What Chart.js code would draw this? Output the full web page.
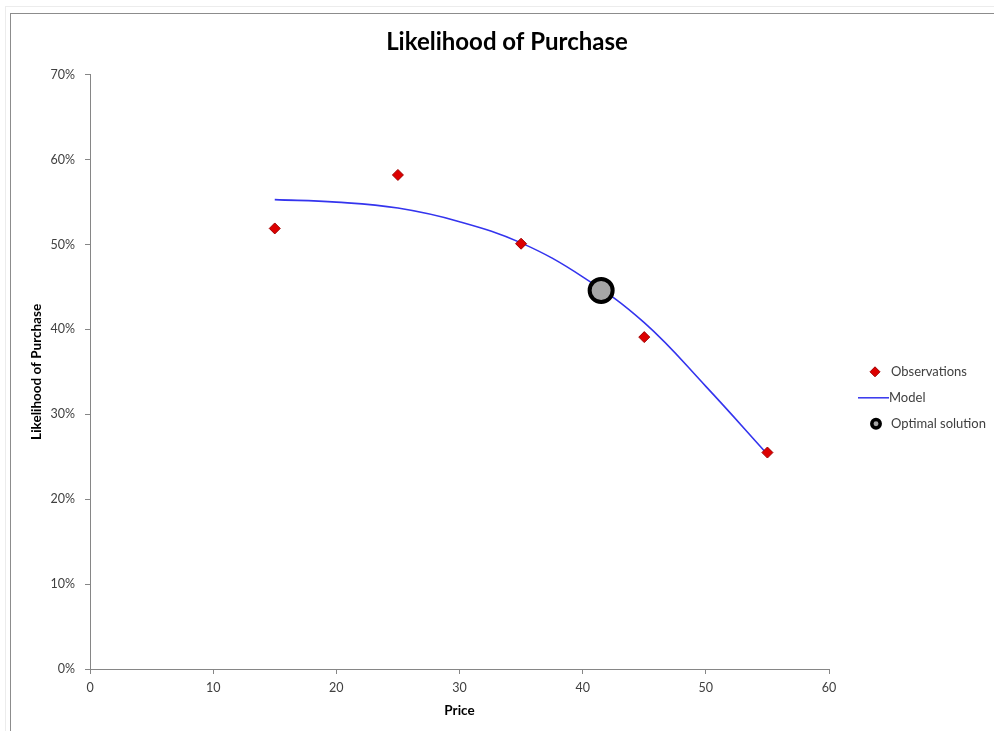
<!DOCTYPE html>
<html>
<head>
<meta charset="utf-8">
<title>Likelihood of Purchase</title>
<script src="https://cdn.jsdelivr.net/npm/chart.js@4.4.1/dist/chart.umd.min.js"></script>
<style>
  html, body { margin: 0; padding: 0; background: #ffffff; overflow: hidden; }
  #outer { position: absolute; left: 5px; top: 6px; width: 1000px; height: 740px; border: 1px solid #ececec; }
  #frame { position: absolute; left: 10px; top: 13px; width: 1000px; height: 740px; border: 1px solid #8c8c8c; }
  #wrap { position: absolute; left: 0; top: 0; width: 994px; height: 731px; }
</style>
</head>
<body>
<div id="outer"></div>
<div id="frame"></div>
<div id="wrap"><canvas id="chart" width="994" height="731"></canvas></div>
<script>
// Observed purchase likelihood at each tested price
const obsPrice = [15, 25, 35, 45, 55];
const obsLikelihood = [0.519, 0.582, 0.501, 0.391, 0.255];

// Fitted model curve
const modelPrice = [15, 20, 25, 30, 35, 40, 45, 50, 55];
const modelLikelihood = [0.553, 0.550, 0.543, 0.527, 0.502, 0.462, 0.408, 0.333, 0.253];

// Optimal price point on the model
const optimalPrice = [41.5];
const optimalLikelihood = [0.446];

// Axis ticks
const xTicks = [0, 10, 20, 30, 40, 50, 60];
const yTicks = [0, 0.1, 0.2, 0.3, 0.4, 0.5, 0.6, 0.7];

const FONT = 'Lato, "Open Sans", "Liberation Sans", sans-serif';
const AXIS = '#868686';
const TEXT = '#404040';

const toPoints = (xs, ys) => xs.map((x, i) => ({ x: x, y: ys[i] }));

// Legend drawn to the right of the plot area
const sideLegend = {
  id: 'sideLegend',
  afterDraw(chart) {
    const { ctx, chartArea } = chart;
    const markX = chartArea.right + 46;
    const textX = chartArea.right + 62;
    const rows = [chartArea.top + 297, chartArea.top + 323, chartArea.top + 349];
    const ds = chart.data.datasets;
    ctx.save();

    // Observations: diamond
    ctx.fillStyle = ds[0].backgroundColor;
    ctx.strokeStyle = ds[0].borderColor;
    ctx.lineWidth = 1;
    ctx.beginPath();
    ctx.moveTo(markX - 5, rows[0]);
    ctx.lineTo(markX, rows[0] - 5);
    ctx.lineTo(markX + 5, rows[0]);
    ctx.lineTo(markX, rows[0] + 5);
    ctx.closePath();
    ctx.fill();
    ctx.stroke();

    // Model: line
    ctx.strokeStyle = ds[1].borderColor;
    ctx.lineWidth = 1.5;
    ctx.beginPath();
    ctx.moveTo(markX - 17, rows[1]);
    ctx.lineTo(markX + 14, rows[1]);
    ctx.stroke();

    // Optimal solution: ringed circle
    ctx.fillStyle = ds[2].backgroundColor;
    ctx.strokeStyle = ds[2].borderColor;
    ctx.lineWidth = 3.5;
    ctx.beginPath();
    ctx.arc(markX + 1, rows[2], 4.2, 0, Math.PI * 2);
    ctx.fill();
    ctx.stroke();

    ctx.font = '13px ' + FONT;
    ctx.fillStyle = TEXT;
    ctx.textBaseline = 'middle';
    ctx.textAlign = 'left';
    ctx.fillText(ds[0].label, textX, rows[0]);
    ctx.fillText(ds[1].label, textX - 2, rows[1]);
    ctx.fillText(ds[2].label, textX, rows[2]);
    ctx.restore();
  }
};

new Chart(document.getElementById('chart'), {
  type: 'scatter',
  data: {
    datasets: [
      {
        label: 'Observations',
        data: toPoints(obsPrice, obsLikelihood),
        pointStyle: 'rectRot',
        pointRadius: 5.5,
        pointBorderWidth: 1,
        backgroundColor: '#dd0000',
        borderColor: '#a00000',
        showLine: false,
        order: 0
      },
      {
        label: 'Model',
        data: toPoints(modelPrice, modelLikelihood),
        showLine: true,
        borderColor: '#3434ee',
        backgroundColor: '#3434ee',
        borderWidth: 1.6,
        pointRadius: 0,
        tension: 0.4,
        order: 2
      },
      {
        label: 'Optimal solution',
        data: toPoints(optimalPrice, optimalLikelihood),
        pointStyle: 'circle',
        pointRadius: 11.5,
        pointBorderWidth: 4,
        backgroundColor: '#a6a6a6',
        borderColor: '#000000',
        showLine: false,
        order: 1
      }
    ]
  },
  options: {
    responsive: false,
    animation: false,
    events: [],
    layout: { padding: { left: 20, right: 0, top: 0, bottom: 8 } },
    plugins: {
      legend: { display: false },
      tooltip: { enabled: false },
      title: {
        display: true,
        text: 'Likelihood of Purchase',
        color: '#000000',
        font: { family: FONT, size: 24, weight: 'bold', lineHeight: 1.2 },
        padding: { top: 28, bottom: 18 }
      }
    },
    scales: {
      x: {
        type: 'linear',
        min: 0,
        max: 60,
        afterFit: (s) => { s.height = 54; },
        afterBuildTicks: (s) => { s.ticks = xTicks.map(v => ({ value: v })); },
        ticks: {
          color: TEXT,
          padding: 6,
          font: { family: FONT, size: 12.5 }
        },
        grid: { display: true, drawOnChartArea: false, drawTicks: true, tickLength: 5, color: AXIS },
        border: { display: true, color: AXIS, width: 1 },
        title: {
          display: true,
          text: 'Price',
          color: '#000000',
          font: { family: FONT, size: 13.5, weight: 'bold', lineHeight: 1.2 },
          padding: { top: 4, bottom: 4 }
        }
      },
      y: {
        type: 'linear',
        min: 0,
        max: 0.7,
        afterFit: (s) => { s.width = 70; },
        afterBuildTicks: (s) => { s.ticks = yTicks.map(v => ({ value: v })); },
        ticks: {
          color: TEXT,
          padding: 10,
          font: { family: FONT, size: 12.5 },
          callback: (v) => Math.round(v * 100) + '%'
        },
        grid: { display: true, drawOnChartArea: false, drawTicks: true, tickLength: 5, color: AXIS },
        border: { display: true, color: AXIS, width: 1 },
        title: {
          display: true,
          text: 'Likelihood of Purchase',
          color: '#000000',
          font: { family: FONT, size: 13.5, weight: 'bold', lineHeight: 1.2 },
          padding: { top: 9, bottom: 4 }
        }
      },
      // Blank column on the right that holds the legend
      legendSpace: {
        type: 'linear',
        position: 'right',
        min: 0,
        max: 1,
        afterFit: (s) => { s.width = 165; },
        ticks: { display: false },
        grid: { display: false, drawTicks: false },
        border: { display: false }
      }
    }
  },
  plugins: [sideLegend]
});
</script>
</body>
</html>
